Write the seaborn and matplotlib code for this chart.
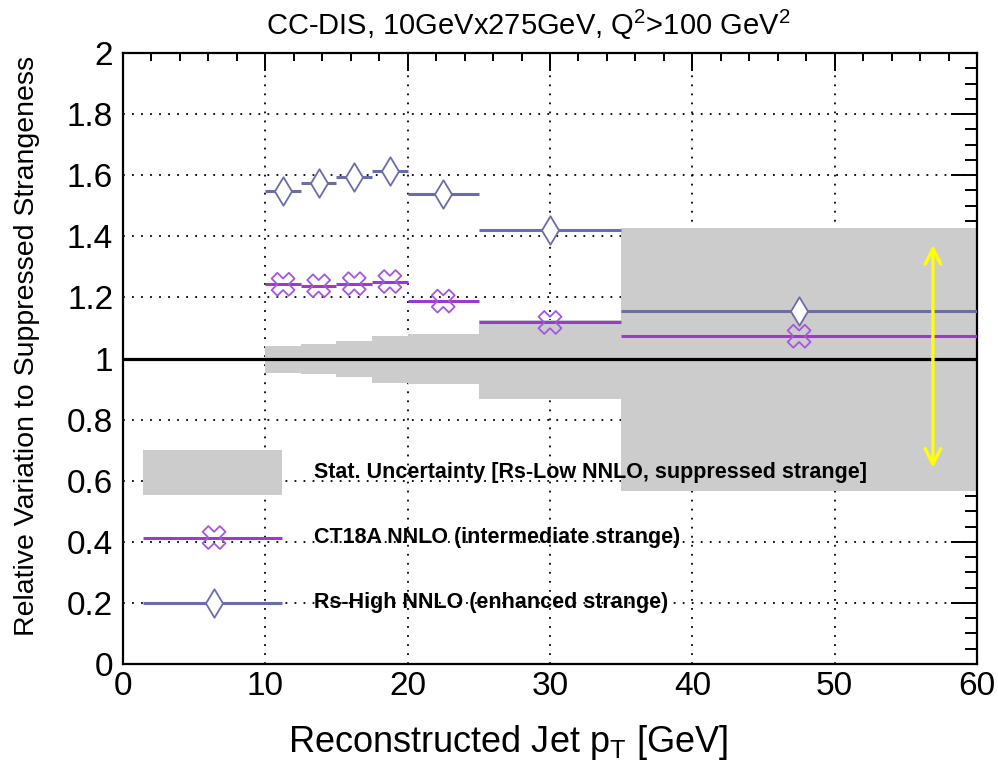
import matplotlib
matplotlib.use("Agg")
import matplotlib.pyplot as plt
import matplotlib.ticker as mticker
import seaborn as sns
import pandas as pd
import numpy as np

# ---- data ----
bin_lo = [10, 12.5, 15, 17.5, 20, 25, 35]
bin_hi = [12.5, 15, 17.5, 20, 25, 35, 60]
enhanced = [1.548, 1.573, 1.594, 1.614, 1.539, 1.421, 1.156]       # Rs-High NNLO
intermediate = [1.243, 1.238, 1.245, 1.252, 1.188, 1.118, 1.073]   # CT18A NNLO
stat_lo = [0.953, 0.948, 0.940, 0.921, 0.915, 0.868, 0.567]
stat_hi = [1.042, 1.048, 1.056, 1.073, 1.080, 1.125, 1.428]
legend_labels = ["Stat. Uncertainty [Rs-Low NNLO, suppressed strange]",
                 "CT18A NNLO (intermediate strange)",
                 "Rs-High NNLO (enhanced strange)"]

C_ENH = "#6c6ca6"
C_INT_LINE = "#9a3bd0"
C_INT_MK = "#a457d8"
C_GRAY = "#cccccc"

sns.set_style("white")
plt.rcParams["font.family"] = ["Liberation Sans", "DejaVu Sans"]
plt.rcParams["text.color"] = "black"
plt.rcParams["axes.labelcolor"] = "black"
plt.rcParams["xtick.color"] = "black"
plt.rcParams["ytick.color"] = "black"

df = pd.DataFrame({"lo": bin_lo, "hi": bin_hi, "enh": enhanced, "int": intermediate,
                   "slo": stat_lo, "shi": stat_hi})
df["ctr"] = (df["lo"] + df["hi"]) / 2
df["w"] = df["hi"] - df["lo"]

fig = plt.figure(figsize=(9.98, 7.74), dpi=100)
ax = fig.add_axes([0.1232, 0.1421, 0.979 - 0.1232, 0.9315 - 0.1421])

# stat band
ax.bar(df["lo"], df["shi"] - df["slo"], bottom=df["slo"], width=df["w"], align="edge",
       color=C_GRAY, linewidth=0, zorder=2)

# reference line
ax.axhline(1.0, color="black", lw=2.3, zorder=3)

# bin lines
ax.hlines(df["enh"], df["lo"], df["hi"], color=C_ENH, lw=2.2, zorder=4)
ax.hlines(df["int"], df["lo"], df["hi"], color=C_INT_LINE, lw=2.2, zorder=4)

# markers
S_D = 14.5**2
S_X = 16.5**2
sns.scatterplot(data=df, x="ctr", y="enh", marker="d", s=S_D, facecolors="white",
                edgecolor=C_ENH, linewidth=1.3, ax=ax, zorder=5, legend=False)
sns.scatterplot(data=df, x="ctr", y="int", marker="X", s=S_X, facecolors="none",
                edgecolor=C_INT_MK, linewidth=1.3, ax=ax, zorder=5, legend=False)

# yellow arrow
ax.annotate("", xy=(56.9, 1.372), xytext=(56.9, 0.642),
            arrowprops=dict(arrowstyle="<->", color="#ffff00", lw=2.4, mutation_scale=28,
                            shrinkA=0, shrinkB=0), zorder=6)

# manual legend (ROOT style)
leg_x0, leg_x1, leg_xm, leg_tx = 1.4, 11.2, 6.4, 13.4
ax.bar([leg_x0], [0.147], bottom=[0.552], width=[leg_x1 - leg_x0], align="edge",
       color=C_GRAY, linewidth=0, zorder=2)
ax.hlines([0.414], leg_x0, leg_x1, color=C_INT_LINE, lw=2.2, zorder=4)
ax.hlines([0.201], leg_x0, leg_x1, color=C_ENH, lw=2.2, zorder=4)
ax.scatter([leg_xm], [0.414], marker="X", s=S_X, facecolors="none",
           edgecolors=C_INT_MK, linewidths=1.3, zorder=5)
ax.scatter([leg_xm], [0.201], marker="d", s=S_D, facecolors="white",
           edgecolors=C_ENH, linewidths=1.3, zorder=5)
for yy, lab in zip([0.626, 0.414, 0.201], legend_labels):
    ax.text(leg_tx, yy, lab, fontsize=15.5, fontweight="bold", va="center", ha="left", zorder=6)

# axes
ax.set_xlim(0, 60)
ax.set_ylim(0, 2)
ax.xaxis.set_major_locator(mticker.MultipleLocator(10))
ax.xaxis.set_minor_locator(mticker.MultipleLocator(2))
ax.yaxis.set_major_locator(mticker.MultipleLocator(0.2))
ax.yaxis.set_minor_locator(mticker.MultipleLocator(0.05))
ax.yaxis.set_major_formatter(mticker.FuncFormatter(lambda v, p: "%g" % round(v, 2)))
ax.grid(True, which="major", color="black", linestyle=(0, (1, 4)), lw=1.3, zorder=1)
ax.set_axisbelow(True)

ax.tick_params(axis="both", which="both", direction="in", top=True, right=True,
               width=1.4, labelsize=24, colors="black")
ax.tick_params(axis="x", which="major", length=13, pad=5)
ax.tick_params(axis="x", which="minor", length=6)
ax.tick_params(axis="y", which="major", length=19, pad=7)
ax.tick_params(axis="y", which="minor", length=9)
for sp in ax.spines.values():
    sp.set_linewidth(1.6)
    sp.set_color("black")

ax.set_xlabel("Reconstructed Jet p$_{\\mathregular{T}}$ [GeV]", fontsize=26, va="center")
ax.set_ylabel("Relative Variation to Suppressed Strangeness", fontsize=20.5, va="center")
ax.xaxis.set_label_coords(0.451, -0.128)
ax.yaxis.set_label_coords(-0.1124, 0.52)

fig.text(0.529, 0.968, "CC-DIS, 10GeVx275GeV, Q$^{\\mathregular{2}}$>100 GeV$^{\\mathregular{2}}$",
         ha="center", va="center", fontsize=21)

fig.savefig("out.png", dpi=100)
